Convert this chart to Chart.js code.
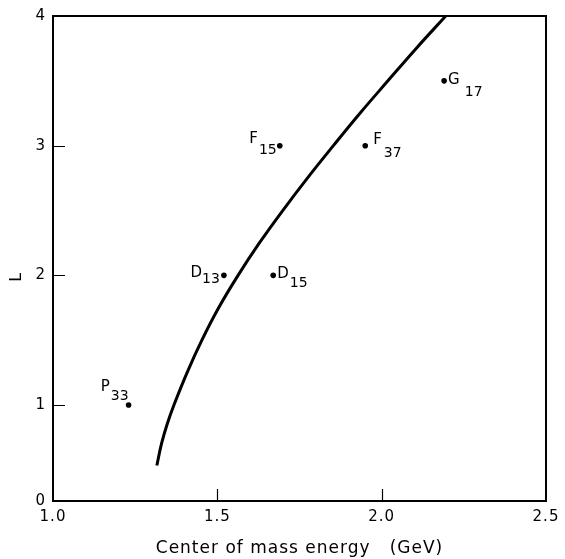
<!DOCTYPE html>
<html>
<head>
<meta charset="utf-8">
<script src="https://cdn.jsdelivr.net/npm/chart.js@4.4.1/dist/chart.umd.min.js"></script>
<style>
  html, body { margin: 0; padding: 0; background: #fff; }
  #wrap { width: 565px; height: 559px; }
</style>
</head>
<body>
<div id="wrap"><canvas id="c" width="565" height="559"></canvas></div>
<script>
// ---- data ----
// Curve (center of mass energy in GeV, L)
const curveEnergy = [1.316, 1.330, 1.347, 1.368, 1.408, 1.453, 1.504, 1.563, 1.628, 1.699, 1.774, 1.853, 1.934, 2.019, 2.105, 2.195];
const curveL      = [0.534, 0.70, 0.85, 1.00, 1.25, 1.50, 1.75, 2.00, 2.25, 2.50, 2.75, 3.00, 3.25, 3.50, 3.75, 4.00];

// Resonances
const resLetter = ['P', 'D', 'D', 'F', 'F', 'G'];
const resSub    = ['33', '13', '15', '15', '37', '17'];
const resEnergy = [1.23, 1.52, 1.67, 1.69, 1.95, 2.19];
const resL      = [1, 2, 2, 3, 3, 3.5];

// Axis ticks
const xTickValues = [1.0, 1.5, 2.0, 2.5];
const xTickLabels = ['1.0', '1.5', '2.0', '2.5'];
const yAxisMin = 0.26;              // bottom of the drawn frame (labelled "0" in the original)
const yTickValues = [yAxisMin, 1, 2, 3, 4];
const yTickLabels = ['0', '1', '2', '3', '4'];
const xTickMarks = [1.5, 2.0];
const yTickMarks = [1, 2, 3];

// ---- label styling (offsets in px relative to the marker) ----
const labelStyle = [
  { side: 'left',  dx: 0,  mainDy: -14, subDy: -5, gap: 1 },
  { side: 'left',  dx: -4, mainDy: 2,   subDy: 8,  gap: 0 },
  { side: 'right', dx: 4,  mainDy: 3,   subDy: 12, gap: 1 },
  { side: 'left',  dx: -3, mainDy: -3,  subDy: 8,  gap: 1 },
  { side: 'right', dx: 8,  mainDy: -2,  subDy: 11, gap: 2 },
  { side: 'right', dx: 4,  mainDy: 3,   subDy: 15, gap: 5 }
];

const FONT = "'DejaVu Sans', sans-serif";

const framePlugin = {
  id: 'framePlugin',
  beforeDraw(chart) {
    chart.ctx.letterSpacing = '1px';
  },
  afterDraw(chart) {
    const { ctx, chartArea: a, scales: { x, y } } = chart;
    ctx.save();
    ctx.letterSpacing = '0px';
    ctx.strokeStyle = '#000';
    ctx.lineWidth = 2;
    ctx.strokeRect(a.left, a.top, a.right - a.left, a.bottom - a.top);
    ctx.lineWidth = 1.2;
    ctx.beginPath();
    xTickMarks.forEach(v => {
      const px = Math.round(x.getPixelForValue(v)) + 0.5;
      ctx.moveTo(px, a.bottom); ctx.lineTo(px, a.bottom - 12);
    });
    yTickMarks.forEach(v => {
      const py = Math.round(y.getPixelForValue(v)) + 0.5;
      ctx.moveTo(a.left, py); ctx.lineTo(a.left + 12, py);
    });
    ctx.stroke();

    // resonance labels
    ctx.fillStyle = '#000';
    ctx.textBaseline = 'alphabetic';
    ctx.textAlign = 'left';
    const mainFont = '15px ' + FONT;
    const subFont = '14px ' + FONT;
    resLetter.forEach((letter, i) => {
      const s = labelStyle[i];
      const px = x.getPixelForValue(resEnergy[i]);
      const py = y.getPixelForValue(resL[i]);
      ctx.font = mainFont;
      const wMain = ctx.measureText(letter).width;
      ctx.font = subFont;
      const wSub = ctx.measureText(resSub[i]).width;
      const total = wMain + s.gap + wSub;
      const x0 = s.side === 'right' ? px + s.dx : px + s.dx - total;
      ctx.font = mainFont;
      ctx.fillText(letter, x0, py + s.mainDy);
      ctx.font = subFont;
      ctx.fillText(resSub[i], x0 + wMain + s.gap, py + s.subDy);
    });
    ctx.restore();
  }
};

new Chart(document.getElementById('c'), {
  type: 'scatter',
  data: {
    datasets: [
      {
        label: 'curve',
        data: curveEnergy.map((e, i) => ({ x: e, y: curveL[i] })),
        showLine: true,
        borderColor: '#000',
        borderWidth: 3,
        pointRadius: 0,
        tension: 0.4,
        fill: false
      },
      {
        label: 'resonances',
        data: resEnergy.map((e, i) => ({ x: e, y: resL[i] })),
        showLine: false,
        pointRadius: 2.8,
        pointBackgroundColor: '#000',
        pointBorderColor: '#000',
        pointBorderWidth: 0
      }
    ]
  },
  options: {
    responsive: false,
    animation: false,
    events: [],
    layout: { padding: { top: 10, right: 19, left: 0, bottom: 0 } },
    plugins: { legend: { display: false }, tooltip: { enabled: false } },
    scales: {
      x: {
        type: 'linear',
        min: 1.0,
        max: 2.5,
        afterBuildTicks(scale) { scale.ticks = xTickValues.map(v => ({ value: v })); },
        afterFit(scale) { scale.height = 58; },
        grid: { display: false, drawTicks: false },
        border: { display: false },
        ticks: {
          color: '#000',
          font: { family: FONT, size: 15 },
          padding: 7,
          maxRotation: 0,
          callback: (v, i) => xTickLabels[i]
        },
        title: {
          display: true,
          text: 'Center of mass energy   (GeV)',
          color: '#000',
          font: { family: FONT, size: 17 },
          padding: { top: 8, bottom: 0 }
        }
      },
      y: {
        type: 'linear',
        min: yAxisMin,
        max: 4,
        afterBuildTicks(scale) { scale.ticks = yTickValues.map(v => ({ value: v })); },
        afterFit(scale) { scale.width = 53; },
        grid: { display: false, drawTicks: false },
        border: { display: false },
        ticks: {
          color: '#000',
          font: { family: FONT, size: 15 },
          padding: 7,
          callback: (v, i) => yTickLabels[i]
        },
        title: {
          display: true,
          text: 'L      ',
          color: '#000',
          font: { family: FONT, size: 16 },
          padding: { top: 7, bottom: 0 }
        }
      }
    }
  },
  plugins: [framePlugin]
});
</script>
</body>
</html>
